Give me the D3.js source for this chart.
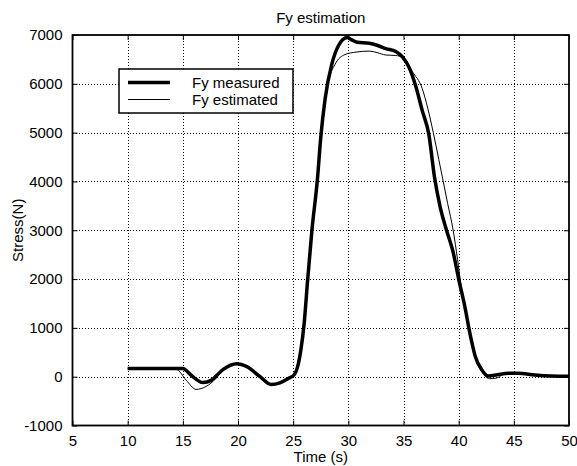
<!DOCTYPE html>
<html>
<head>
<meta charset="utf-8">
<script src="https://cdn.jsdelivr.net/npm/d3@7"></script>
<style>
  html, body { margin: 0; padding: 0; background: #fff; }
  svg { display: block; }
  text { font-family: "Liberation Sans", Arial, sans-serif; fill: #000; }
</style>
</head>
<body>
<svg id="chart" width="577" height="466"></svg>
<script>
// Time axis (s) and force readings (N)
const measuredTime = [10, 15, 15.8, 16.8, 17.6, 18.6, 19.9, 20.8, 22.0, 23.0, 23.8, 24.6, 25.1, 25.4, 25.7, 26.0, 26.3, 26.7, 27.2, 27.5, 27.9, 28.5, 29.1, 29.9, 30.3, 30.8, 31.9, 32.6, 33.4, 34.3, 34.9, 35.5, 36.1, 36.7, 37.3, 37.8, 38.3, 38.9, 39.5, 40.0, 40.5, 41.1, 41.5, 42.1, 42.7, 43.5, 44.5, 45.4, 46.9, 48.4, 50];
const measuredForce = [170, 170, 20, -120, -70, 140, 265, 205, 0, -160, -125, -30, 40, 200, 550, 1100, 1950, 3000, 4050, 4900, 5700, 6400, 6780, 6950, 6900, 6850, 6830, 6790, 6720, 6660, 6550, 6340, 5960, 5450, 4960, 4100, 3500, 3000, 2550, 2000, 1500, 800, 420, 140, 15, 40, 70, 70, 35, 15, 10];

const estimatedTime = [10, 14.4, 15.3, 16.2, 17.1, 18.0, 18.6, 19.9, 20.8, 22.0, 23.0, 23.8, 24.6, 25.1, 25.4, 25.7, 26.0, 26.3, 26.7, 27.2, 27.6, 28.1, 28.8, 29.7, 30.7, 31.9, 32.6, 33.4, 34.3, 34.9, 35.8, 36.7, 37.2, 37.7, 38.2, 38.6, 39.0, 39.5, 39.9, 40.2, 40.5, 41.1, 41.5, 42.1, 42.8, 43.4, 44.0, 44.5, 45.4, 46.9, 48.4, 50];
const estimatedForce = [170, 150, -70, -260, -200, -35, 140, 265, 205, 0, -160, -125, -30, 40, 200, 550, 1100, 1950, 3000, 4050, 5000, 5950, 6400, 6600, 6650, 6670, 6640, 6590, 6580, 6545, 6250, 5900, 5500, 5000, 4450, 4000, 3550, 3000, 2400, 1900, 1500, 800, 400, 100, -40, -30, 40, 60, 70, 35, 15, 10];

const xTicks = [5, 10, 15, 20, 25, 30, 35, 40, 45, 50];
const yTicks = [-1000, 0, 1000, 2000, 3000, 4000, 5000, 6000, 7000];
const seriesNames = ["Fy measured", "Fy estimated"];

const svg = d3.select("#chart");
const W = 577, H = 466;
const plot = { left: 72.5, right: 569, top: 35, bottom: 425.5 };

svg.append("rect").attr("width", W).attr("height", H).attr("fill", "#fff");

const x = d3.scaleLinear().domain([5, 50]).range([plot.left, plot.right]);
const y = d3.scaleLinear().domain([-1000, 7000]).range([plot.bottom, plot.top]);

const fontSize = 15;
const fmt = v => String(v);

// dotted grid
const grid = svg.append("g").attr("stroke", "#000").attr("stroke-width", 1)
  .attr("stroke-dasharray", "1,2").attr("shape-rendering", "crispEdges");
xTicks.slice(1, -1).forEach(t => {
  grid.append("line").attr("x1", Math.round(x(t)) + 0.5).attr("x2", Math.round(x(t)) + 0.5)
    .attr("y1", plot.top).attr("y2", plot.bottom);
});
yTicks.slice(1, -1).forEach(t => {
  grid.append("line").attr("y1", Math.round(y(t)) + 0.5).attr("y2", Math.round(y(t)) + 0.5)
    .attr("x1", plot.left).attr("x2", plot.right);
});

// axes: inward ticks on all four sides
const tickLen = 5;
const xAxisB = d3.axisBottom(x).tickValues(xTicks).tickFormat(fmt).tickSizeInner(-tickLen).tickSizeOuter(0).tickPadding(10);
const xAxisT = d3.axisTop(x).tickValues(xTicks).tickSizeInner(-tickLen).tickSizeOuter(0).tickFormat("");
const yAxisL = d3.axisLeft(y).tickValues(yTicks).tickFormat(fmt).tickSizeInner(-tickLen).tickSizeOuter(0).tickPadding(10);
const yAxisR = d3.axisRight(y).tickValues(yTicks).tickSizeInner(-tickLen).tickSizeOuter(0).tickFormat("");

function styleAxis(g) {
  g.select(".domain").remove();
  g.selectAll("line").attr("stroke", "#000");
  g.selectAll("text").attr("font-size", fontSize).attr("font-family", '"Liberation Sans", Arial, sans-serif').attr("fill", "#000");
}
svg.append("g").attr("transform", `translate(0,${plot.bottom})`).call(xAxisB).call(styleAxis);
svg.append("g").attr("transform", `translate(0,${plot.top})`).call(xAxisT).call(styleAxis);
svg.append("g").attr("transform", `translate(${plot.left},0)`).call(yAxisL).call(styleAxis);
svg.append("g").attr("transform", `translate(${plot.right},0)`).call(yAxisR).call(styleAxis);

// lines
const line = d3.line().x(d => x(d[0])).y(d => y(d[1])).curve(d3.curveMonotoneX);
const estimated = estimatedTime.map((t, i) => [t, estimatedForce[i]]);
const measured = measuredTime.map((t, i) => [t, measuredForce[i]]);

svg.append("path").datum(estimated).attr("d", line)
  .attr("fill", "none").attr("stroke", "#000").attr("stroke-width", 1);
svg.append("path").datum(measured).attr("d", line)
  .attr("fill", "none").attr("stroke", "#000").attr("stroke-width", 3.5).attr("stroke-linejoin", "round");

// frame
svg.append("rect").attr("x", plot.left).attr("y", plot.top)
  .attr("width", plot.right - plot.left).attr("height", plot.bottom - plot.top)
  .attr("fill", "none").attr("stroke", "#000").attr("stroke-width", 1.8);

// title and axis labels
svg.append("text").attr("x", (plot.left + plot.right) / 2).attr("y", 23)
  .attr("text-anchor", "middle").attr("font-size", fontSize).text("Fy estimation");
svg.append("text").attr("x", (plot.left + plot.right) / 2).attr("y", 462)
  .attr("text-anchor", "middle").attr("font-size", fontSize).text("Time (s)");
svg.append("text").attr("transform", `translate(23,${(plot.top + plot.bottom) / 2}) rotate(-90)`)
  .attr("text-anchor", "middle").attr("font-size", fontSize).text("Stress(N)");

// legend
const lg = svg.append("g");
lg.append("rect").attr("x", 119).attr("y", 69).attr("width", 174).attr("height", 44)
  .attr("fill", "#fff").attr("stroke", "#000").attr("stroke-width", 1.5);
const widths = [3.5, 1];
seriesNames.forEach((name, i) => {
  const ly = 82.5 + i * 17;
  lg.append("line").attr("x1", 128).attr("x2", 170).attr("y1", ly).attr("y2", ly)
    .attr("stroke", "#000").attr("stroke-width", widths[i]);
  lg.append("text").attr("x", 192).attr("y", ly + 5).attr("font-size", fontSize).text(name);
});
</script>
</body>
</html>
